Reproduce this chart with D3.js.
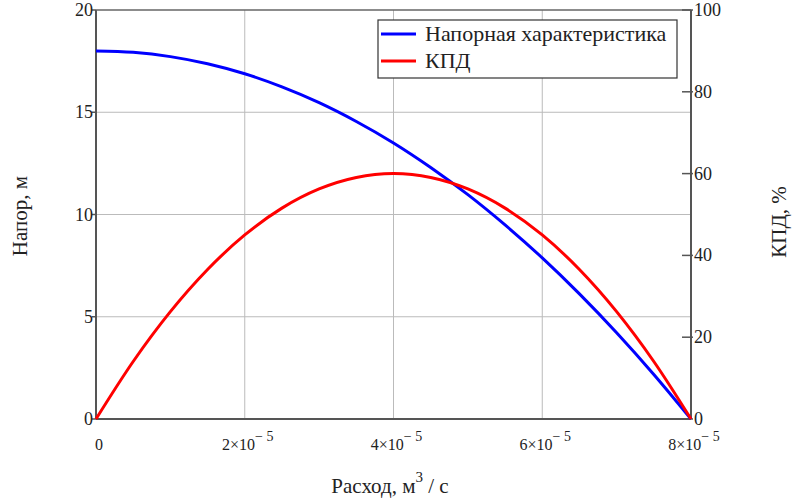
<!DOCTYPE html>
<html>
<head>
<meta charset="utf-8">
<script src="https://cdn.jsdelivr.net/npm/d3@7"></script>
<style>
  body { margin: 0; background: #fff; }
  svg text { font-family: "Liberation Serif", "Times New Roman", serif; fill: #222; }
</style>
</head>
<body>
<svg id="chart"></svg>
<script>
// flow, 1e-5 m3/s
const flow = [0, 0.5, 1, 1.5, 2, 2.5, 3, 3.5, 4, 4.5, 5, 5.5, 6, 6.5, 7, 7.5, 8]
// head, m
const head = [18, 17.93, 17.72, 17.37, 16.88, 16.24, 15.47, 14.55, 13.5, 12.3, 10.97, 9.49, 7.88, 6.12, 4.22, 2.18, 0]
// efficiency, %
const eff = [0, 14.06, 26.25, 36.56, 45, 51.56, 56.25, 59.06, 60, 59.06, 56.25, 51.56, 45, 36.56, 26.25, 14.06, 0]

const xTicks = [0, 2, 4, 6, 8]
const yTicks = [0, 5, 10, 15, 20]
const y2Ticks = [0, 20, 40, 60, 80, 100]

const W = 792, H = 499
const m = {left: 96, right: 691, top: 10, bottom: 419}

const svg = d3.select('#chart').attr('width', W).attr('height', H)

const x = d3.scaleLinear().domain([0, 8]).range([m.left, m.right])
const y = d3.scaleLinear().domain([0, 20]).range([m.bottom, m.top])
const y2 = d3.scaleLinear().domain([0, 100]).range([m.bottom, m.top])

// grid
svg.append('g').selectAll('line.vg')
  .data(xTicks.slice(1, -1))
  .join('line')
    .attr('x1', d => x(d)).attr('x2', d => x(d))
    .attr('y1', m.top).attr('y2', m.bottom)
    .attr('stroke', '#bbb').attr('stroke-width', 1)
svg.append('g').selectAll('line.hg')
  .data(yTicks.slice(1, -1))
  .join('line')
    .attr('x1', m.left).attr('x2', m.right)
    .attr('y1', d => y(d)).attr('y2', d => y(d))
    .attr('stroke', '#bbb').attr('stroke-width', 1)

// frame: left, bottom, right, top
const frame = svg.append('g').attr('stroke', '#555').attr('stroke-width', 2)
frame.append('line').attr('x1', m.left).attr('x2', m.left).attr('y1', m.top).attr('y2', m.bottom)
frame.append('line').attr('x1', m.left).attr('x2', m.right).attr('y1', m.bottom).attr('y2', m.bottom)
frame.append('line').attr('x1', m.right).attr('x2', m.right).attr('y1', m.top).attr('y2', m.bottom)
frame.append('line').attr('x1', m.left).attr('x2', m.right).attr('y1', m.top).attr('y2', m.top)
  .attr('stroke', '#666').attr('stroke-width', 1.5)

// left ticks
svg.append('g').selectAll('line')
  .data(yTicks)
  .join('line')
    .attr('x1', m.left - 4).attr('x2', m.left)
    .attr('y1', d => y(d)).attr('y2', d => y(d))
    .attr('stroke', '#555').attr('stroke-width', 1.5)
svg.append('g').selectAll('text')
  .data(yTicks)
  .join('text')
    .attr('x', m.left - 3)
    .attr('y', d => y(d) + 6)
    .attr('text-anchor', 'end')
    .attr('font-size', 18)
    .text(d => d)

// right ticks
svg.append('g').selectAll('line')
  .data(y2Ticks)
  .join('line')
    .attr('x1', m.right - 9).attr('x2', m.right + 2)
    .attr('y1', d => y2(d)).attr('y2', d => y2(d))
    .attr('stroke', '#555').attr('stroke-width', 1.5)
svg.append('g').selectAll('text')
  .data(y2Ticks)
  .join('text')
    .attr('x', m.right + 3)
    .attr('y', d => y2(d) + 6)
    .attr('font-size', 18)
    .text(d => d)

// x tick labels
const xl = svg.append('g').selectAll('text')
  .data(xTicks)
  .join('text')
    .attr('x', d => x(d) + 3)
    .attr('y', 450)
    .attr('text-anchor', 'middle')
    .attr('font-size', 16)
xl.each(function(d) {
  const t = d3.select(this)
  if (d === 0) { t.text('0'); return }
  t.append('tspan').text(d + '×10')
  t.append('tspan').attr('dy', -9).attr('font-size', 14).text('− 5')
})

// curves
const line = d3.line().curve(d3.curveMonotoneX)
svg.append('path')
  .attr('d', line(flow.map((q, i) => [x(q), y(head[i])])))
  .attr('fill', 'none').attr('stroke', '#0000ff').attr('stroke-width', 3)
svg.append('path')
  .attr('d', line(flow.map((q, i) => [x(q), y2(eff[i])])))
  .attr('fill', 'none').attr('stroke', '#ff0000').attr('stroke-width', 3)

// legend
const lg = svg.append('g')
lg.append('rect').attr('x', 378).attr('y', 20).attr('width', 299).attr('height', 58)
  .attr('fill', '#fff').attr('stroke', '#333').attr('stroke-width', 1.2)
const legend = [['Напорная характеристика', '#0000ff'], ['КПД', '#ff0000']]
legend.forEach(([name, c], i) => {
  const yy = 34 + i * 27
  lg.append('line').attr('x1', 381).attr('x2', 416).attr('y1', yy).attr('y2', yy)
    .attr('stroke', c).attr('stroke-width', 3)
  lg.append('text').attr('x', 425).attr('y', yy + 7).attr('font-size', 22).text(name)
})

// axis titles
const xt = svg.append('text').attr('x', 390).attr('y', 493).attr('text-anchor', 'middle').attr('font-size', 21)
xt.append('tspan').text('Расход, м')
xt.append('tspan').attr('dy', -11).attr('font-size', 15).text('3')
xt.append('tspan').attr('dy', 11).text(' / с')

svg.append('text')
  .attr('transform', 'translate(27,216) rotate(-90)')
  .attr('text-anchor', 'middle').attr('font-size', 21)
  .text('Напор, м')
svg.append('text')
  .attr('transform', 'translate(786,222) rotate(-90)')
  .attr('text-anchor', 'middle').attr('font-size', 21)
  .text('КПД, %')
</script>
</body>
</html>
